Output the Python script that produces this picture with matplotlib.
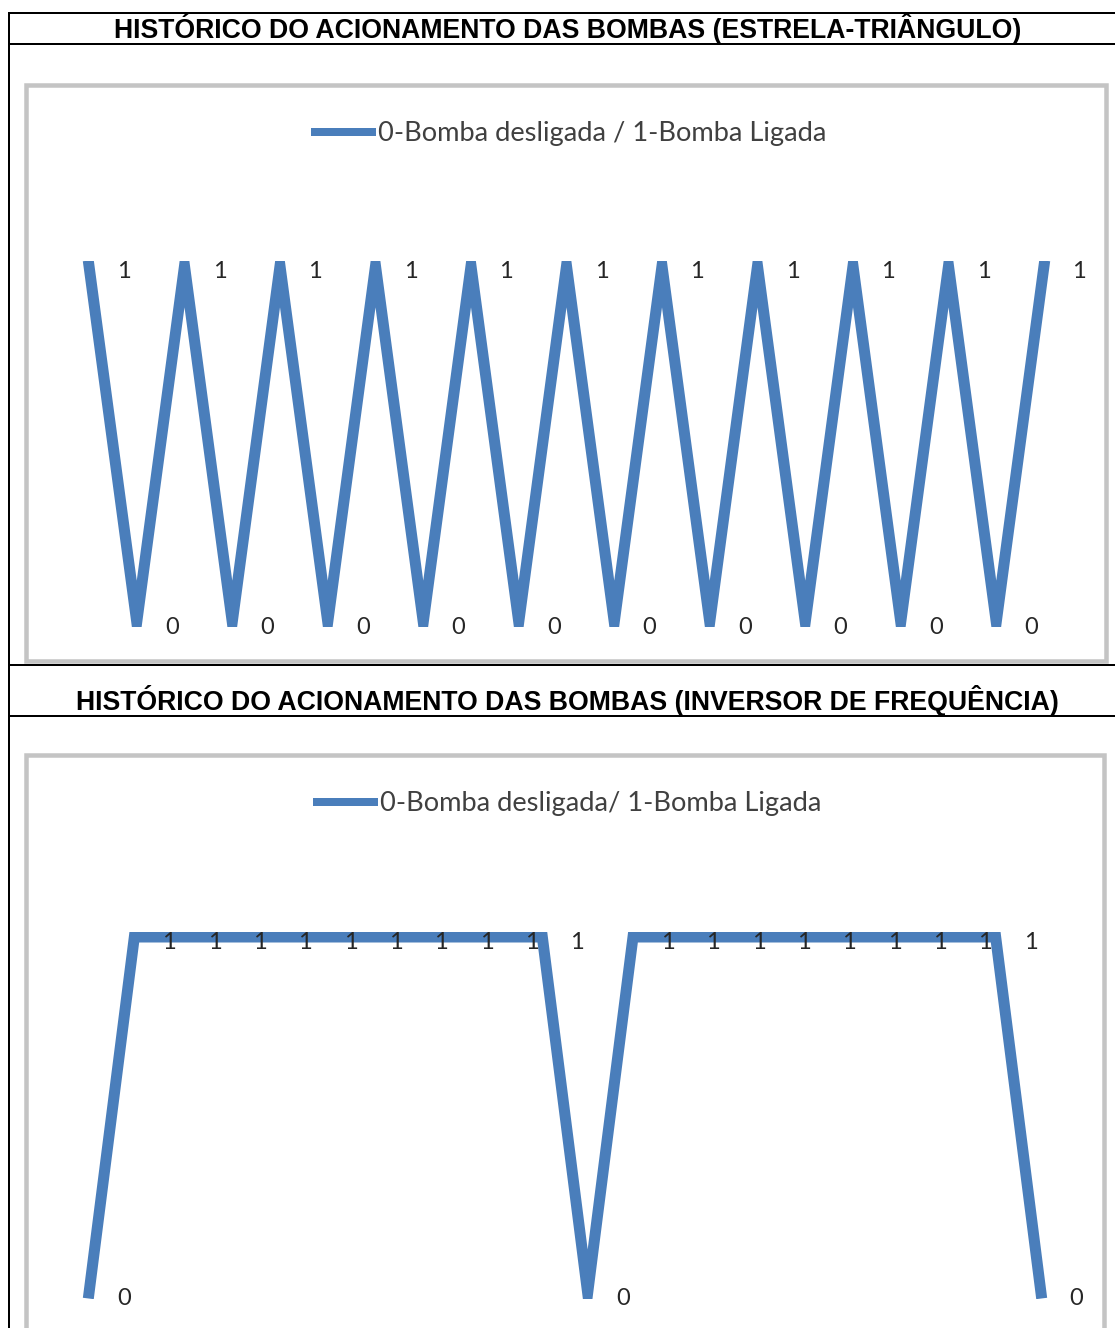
import matplotlib
matplotlib.use("Agg")
import matplotlib.pyplot as plt
from matplotlib.lines import Line2D
from matplotlib.patches import Rectangle

W, H = 1115, 1328

# Pump on/off history (0 = pump off, 1 = pump on)
titulo_estrela = "HISTÓRICO DO ACIONAMENTO DAS BOMBAS (ESTRELA-TRIÂNGULO)"
titulo_inversor = "HISTÓRICO DO ACIONAMENTO DAS BOMBAS (INVERSOR DE FREQUÊNCIA)"
legenda_estrela = "0-Bomba desligada / 1-Bomba Ligada"
legenda_inversor = "0-Bomba desligada/ 1-Bomba Ligada"

estrela_triangulo = [1, 0, 1, 0, 1, 0, 1, 0, 1, 0, 1,
                     0, 1, 0, 1, 0, 1, 0, 1, 0, 1]
inversor_frequencia = [0, 1, 1, 1, 1, 1, 1, 1, 1, 1, 1,
                       0, 1, 1, 1, 1, 1, 1, 1, 1, 1, 0]

LINE_COLOR = "#4A7EBB"
LABEL_COLOR = "#262626"
LEGEND_COLOR = "#404040"
FRAME_COLOR = "#C4C4C4"
PX = 72 / 100  # points per pixel at 100 dpi

fig = plt.figure(figsize=(W / 100, H / 100), dpi=100)


def fx(x):
    return x / W


def fy(y):
    return 1 - y / H


def hline(y, x0=8, x1=W):
    fig.add_artist(Line2D([fx(x0), fx(x1)], [fy(y), fy(y)],
                          transform=fig.transFigure, color="black",
                          lw=2 * PX, solid_capstyle="butt"))


# table grid
hline(13)
hline(44)
hline(665)
hline(716)
fig.add_artist(Line2D([fx(9), fx(9)], [fy(12), fy(H + 5)],
                      transform=fig.transFigure, color="black",
                      lw=2 * PX, solid_capstyle="butt"))

title_kw = dict(ha="center", va="center", fontweight="bold",
                family="Liberation Sans", fontsize=19.2, color="black")
fig.text(fx(567.5), fy(29), titulo_estrela, **title_kw)
fig.text(fx(567.5), fy(700), titulo_inversor, **title_kw)


def chart(values, frame, data_px, clip_px, legend_text, legend_xy):
    # chart border
    fx0, fy0, fx1, fy1 = frame
    fig.add_artist(Rectangle((fx(fx0), fy(fy1)), fx(fx1) - fx(fx0),
                             fy(fy0) - fy(fy1), transform=fig.transFigure,
                             fill=False, edgecolor=FRAME_COLOR, lw=4.5 * PX))

    # plot area: pixel positions of first/last point and of values 1 / 0
    x_first, x_last, y_one, y_zero = data_px
    cx0, cy0, cx1, cy1 = clip_px
    n = len(values) - 1
    ux = (x_last - x_first) / n
    uy = (y_zero - y_one)
    ax = fig.add_axes([fx(cx0), fy(cy1), fx(cx1) - fx(cx0), fy(cy0) - fy(cy1)])
    ax.set_xlim((cx0 - x_first) / ux, n + (cx1 - x_last) / ux)
    ax.set_ylim(-(cy1 - y_zero) / uy, 1 + (y_one - cy0) / uy)
    ax.axis("off")
    xs = list(range(len(values)))
    ax.plot(xs, values, color=LINE_COLOR, lw=11 * PX,
            solid_joinstyle="miter", solid_capstyle="projecting",
            label=legend_text)
    for i, v in enumerate(values):
        ax.annotate(str(v), (i, v), xytext=(35 * PX, -5.5 * PX),
                    textcoords="offset points", ha="center", va="center",
                    fontsize=17, family="Lato", color=LABEL_COLOR,
                    annotation_clip=False)
    leg = ax.legend(loc="center", bbox_to_anchor=(fx(legend_xy[0]), fy(legend_xy[1])),
                    bbox_transform=fig.transFigure, frameon=False,
                    handlelength=2.4, handletextpad=0.05, borderpad=0,
                    prop={"family": "Lato", "size": 19.6}, labelcolor=LEGEND_COLOR)
    leg.get_lines()[0].set_linewidth(8 * PX)
    leg.get_lines()[0].set_solid_capstyle("butt")
    return ax


chart(estrela_triangulo, (25.5, 84.5, 1106, 661),
      (89, 1044, 266, 622), (40, 261, 1090, 627),
      legenda_estrela, (568.5, 134))
chart(inversor_frequencia, (25.5, 755, 1103.5, 1400),
      (89, 1041, 937, 1293), (40, 931.5, 1090, 1298.5),
      legenda_inversor, (567, 804))

fig.savefig("out.png", dpi=100, facecolor="white")
